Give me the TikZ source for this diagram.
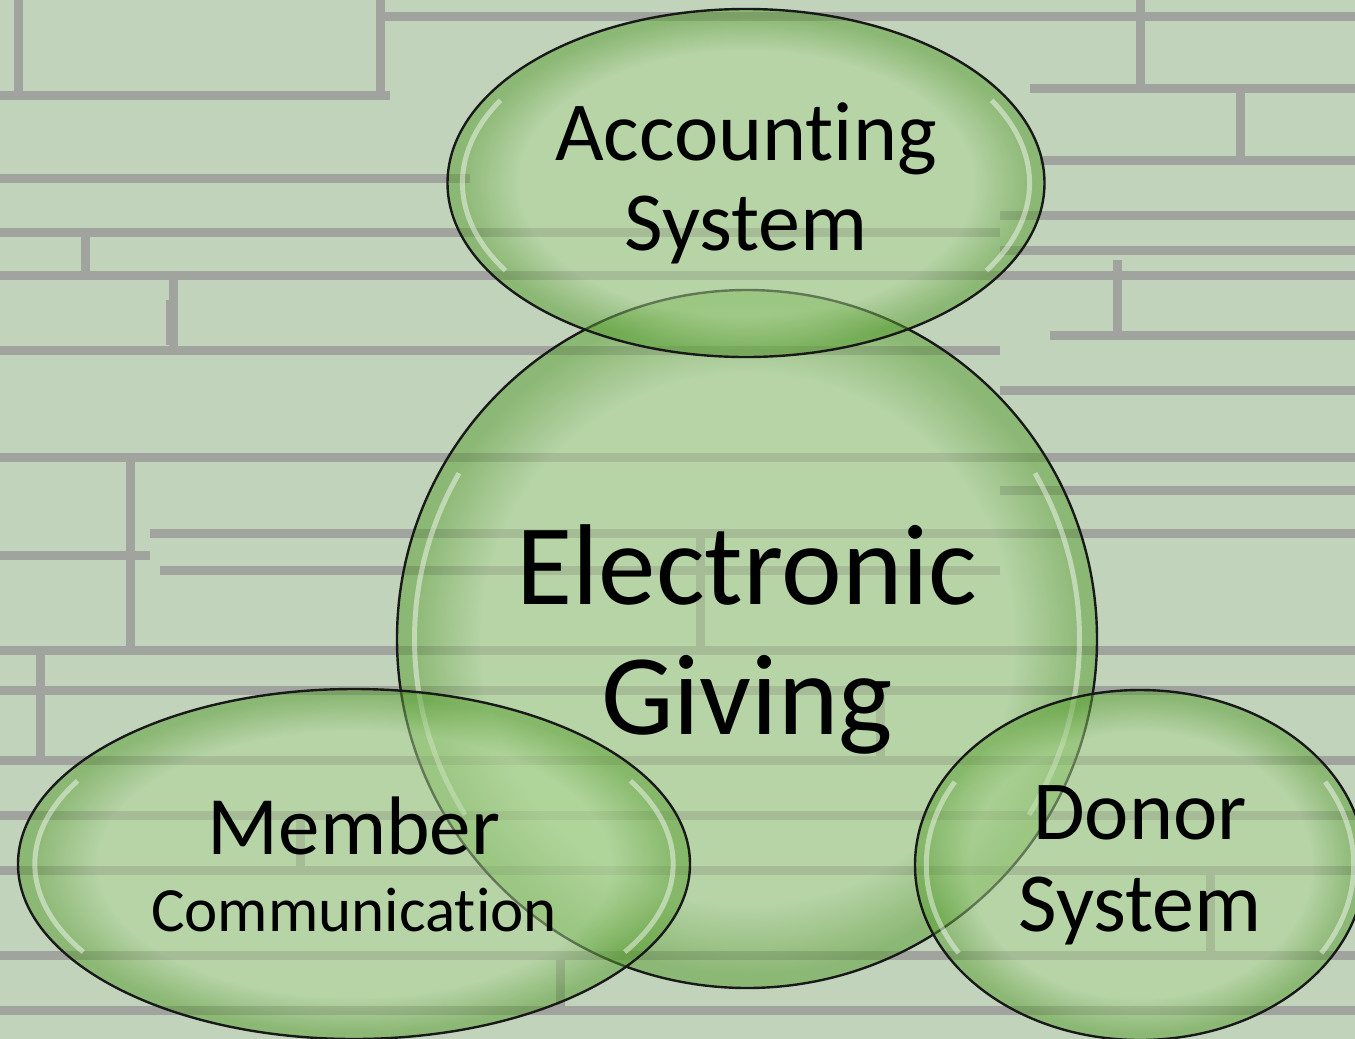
\documentclass[tikz,border=0pt]{standalone}
\usepackage{fontspec}
\setmainfont{Carlito}[Ligatures = NoCommon]
\usetikzlibrary{shapes.geometric, calc}

\definecolor{stone}{RGB}{194,211,188}
\definecolor{mortar}{RGB}{160,163,158}
\definecolor{bubblelight}{RGB}{172,214,146}
\definecolor{bubbledark}{RGB}{88,158,48}

\pgfdeclareradialshading{bubbleshade}{\pgfpoint{0bp}{0bp}}{color(0bp)=(bubblelight); color(19bp)=(bubblelight); color(24bp)=(bubbledark); color(25bp)=(bubbledark); color(50bp)=(bubbledark)}

\tikzset{
    bubble/.style = {ellipse, draw = black!90, line width = 2.4pt, shade, shading = bubbleshade, fill opacity = 0.5, draw opacity = 1, text opacity = 1, inner sep = 0pt, align = center,
        path picture = {
            \draw[white, opacity = 0.45, line width = 5pt]
                let \p1 = ($(path picture bounding box.north east) - (path picture bounding box.center)$) in
                ($(path picture bounding box.center) + (150:0.95*\x1 and 0.95*\y1)$) arc[start angle = 150, end angle = 212, x radius = 0.95*\x1, y radius = 0.95*\y1]
                ($(path picture bounding box.center) + (-32:0.95*\x1 and 0.95*\y1)$) arc[start angle = -32, end angle = 30, x radius = 0.95*\x1, y radius = 0.95*\y1];
        }},
    mortarline/.style = {draw = mortar, line width = 9pt},
}

\begin{document}
\begin{tikzpicture}[x = 1pt, y = -1pt]
    \useasboundingbox (0, 0) rectangle (1355, 1039);
    \clip (0, 0) rectangle (1355, 1039);

    % stone wall
    \fill[stone] (0, 0) rectangle (1355, 1039);
    \foreach \y/\a/\b in {16/380/1355, 95/0/390, 88/1030/1355, 160/1040/1355, 178/0/470, 215/1000/1355, 232/0/1000, 250/1000/1355, 275/0/1355, 335/1050/1355, 350/0/1000, 390/1000/1355, 457/0/1355, 490/1000/1355, 533/150/1355, 555/0/150, 570/160/1000, 650/0/1355, 690/0/1355, 760/0/1355, 815/0/1355, 870/0/1355, 955/0/1355, 1010/0/1355}
        \draw[mortarline] (\a, \y) -- (\b, \y);
    \foreach \x/\a/\b in {18/0/95, 380/0/95, 1140/0/90, 1240/90/160, 85/232/275, 173/275/350, 1117/260/335, 170/300/345, 130/457/650, 40/650/760, 700/533/650, 880/690/760, 300/815/870, 1210/870/955, 560/955/1010}
        \draw[mortarline] (\x, \a) -- (\x, \b);

    % bubbles
    \node[bubble, minimum width = 700, minimum height = 698, font = \fontsize{115}{130}\selectfont] (egive) at (747, 639) {Electronic\\Giving};
    \node[bubble, minimum width = 597, minimum height = 348, font = \fontsize{84}{90}\selectfont] (acct) at (746, 183) {Accounting\\System};
    \node[bubble, minimum width = 672, minimum height = 350, font = \fontsize{83}{77}\selectfont] (member) at (354, 864) {Member\\{\fontsize{63}{77}\selectfont Communication}};
    \node[bubble, minimum width = 450, minimum height = 350, font = \fontsize{84}{92}\selectfont] (donor) at (1140, 865) {Donor\\System};
\end{tikzpicture}
\end{document}
